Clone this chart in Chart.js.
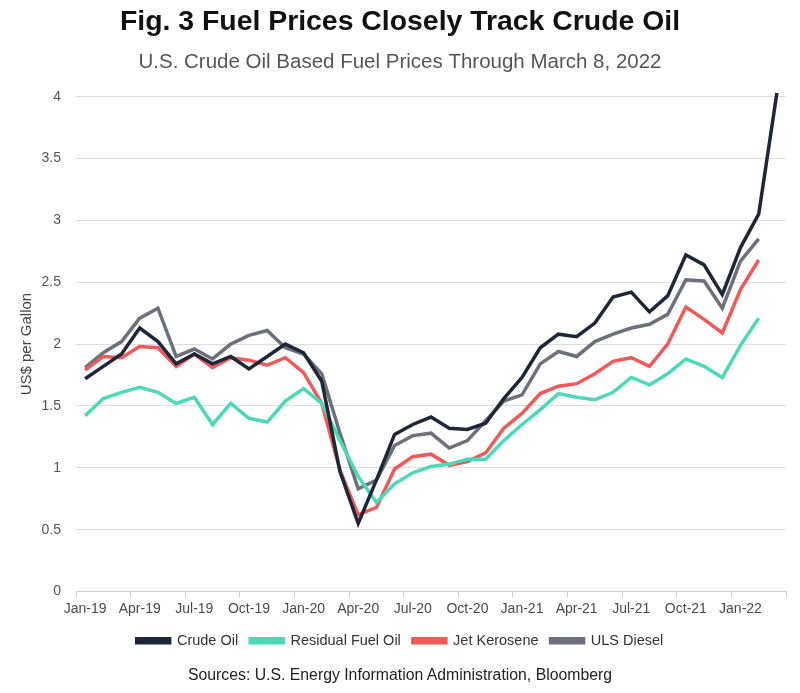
<!DOCTYPE html>
<html>
<head>
<meta charset="utf-8">
<script src="https://cdn.jsdelivr.net/npm/chart.js@4.4.1/dist/chart.umd.min.js"></script>
<style>
  body { margin: 0; background: #fff; }
  #wrap { position: relative; width: 800px; height: 693px; }
  #src {
    position: absolute; left: 0; top: 664px; width: 800px;
    text-align: center; font: 15.8px 'Liberation Sans', Arial, sans-serif;
    line-height: 22px; color: #222;
  }
</style>
</head>
<body>
<div id="wrap">
  <canvas id="chart" width="800" height="693"></canvas>
  <div id="src">Sources: U.S. Energy Information Administration, Bloomberg</div>
</div>
<script>
// Monthly categories, Jan-19 .. Mar-22 (Mar-22 = March 8 crude reading)
const months = [
  'Jan-19', 'Feb-19', 'Mar-19', 'Apr-19', 'May-19', 'Jun-19', 'Jul-19', 'Aug-19', 'Sep-19', 'Oct-19', 'Nov-19', 'Dec-19',
  'Jan-20', 'Feb-20', 'Mar-20', 'Apr-20', 'May-20', 'Jun-20', 'Jul-20', 'Aug-20', 'Sep-20', 'Oct-20', 'Nov-20', 'Dec-20',
  'Jan-21', 'Feb-21', 'Mar-21', 'Apr-21', 'May-21', 'Jun-21', 'Jul-21', 'Aug-21', 'Sep-21', 'Oct-21', 'Nov-21', 'Dec-21',
  'Jan-22', 'Feb-22', 'Mar-22'
];

// US$ per gallon
const crudeOil = [
  1.72, 1.82, 1.92, 2.13, 2.02, 1.84, 1.92, 1.84, 1.90, 1.80, 1.90, 2.00,
  1.93, 1.70, 0.97, 0.55, 0.90, 1.27, 1.35, 1.41, 1.32, 1.31, 1.36, 1.56,
  1.73, 1.97, 2.08, 2.06, 2.17, 2.38, 2.42, 2.26, 2.39, 2.72, 2.64, 2.40,
  2.78, 3.05, 4.03
];
const residualFuelOil = [
  1.42, 1.56, 1.61, 1.65, 1.61, 1.52, 1.57, 1.35, 1.52, 1.40, 1.37, 1.54,
  1.64, 1.52, 1.22, 0.93, 0.72, 0.87, 0.96, 1.01, 1.03, 1.07, 1.07, 1.22,
  1.35, 1.47, 1.60, 1.57, 1.55, 1.61, 1.73, 1.67, 1.76, 1.88, 1.82, 1.73,
  1.99, 2.21
];
const jetKerosene = [
  1.79, 1.90, 1.89, 1.98, 1.97, 1.82, 1.92, 1.81, 1.89, 1.87, 1.83, 1.89,
  1.77, 1.52, 0.98, 0.62, 0.68, 0.99, 1.09, 1.11, 1.02, 1.05, 1.12, 1.32,
  1.44, 1.60, 1.66, 1.68, 1.76, 1.86, 1.89, 1.82, 2.00, 2.30, 2.20, 2.09,
  2.44, 2.68
];
const ulsDiesel = [
  1.81, 1.93, 2.02, 2.21, 2.29, 1.90, 1.96, 1.88, 2.00, 2.07, 2.11, 1.97,
  1.92, 1.76, 1.28, 0.83, 0.90, 1.18, 1.26, 1.28, 1.16, 1.22, 1.38, 1.54,
  1.59, 1.84, 1.94, 1.90, 2.02, 2.08, 2.13, 2.16, 2.24, 2.52, 2.51, 2.29,
  2.67, 2.85
];

const colors = {
  crude: '#1e2737',
  residual: '#4cd8b9',
  jet: '#ee5a5a',
  uls: '#6c707b',
  grid: '#dedede',
  axis: '#cfcfcf',
  tick: '#4a4a4a'
};

const sans = "'Liberation Sans', Arial, sans-serif";

function series(label, data, color) {
  return {
    label,
    data,
    borderColor: color,
    backgroundColor: color,
    borderWidth: 3.5,
    pointRadius: 0,
    tension: 0,
    clip: false
  };
}

new Chart(document.getElementById('chart'), {
  type: 'line',
  data: {
    labels: months,
    datasets: [
      series('Crude Oil', crudeOil, colors.crude),
      series('Residual Fuel Oil', residualFuelOil, colors.residual),
      series('Jet Kerosene', jetKerosene, colors.jet),
      series('ULS Diesel', ulsDiesel, colors.uls)
    ]
  },
  options: {
    responsive: false,
    animation: false,
    layout: { padding: { top: 0, left: 0, right: 0, bottom: 35 } },
    scales: {
      x: {
        offset: true,
        border: { display: true, color: colors.axis, width: 1 },
        grid: {
          offset: true,
          drawOnChartArea: false,
          drawTicks: true,
          tickLength: 6,
          color: c => ((c.index ?? 0) % 3 === 0 ? colors.axis : 'rgba(0,0,0,0)')
        },
        ticks: {
          autoSkip: false,
          maxRotation: 0,
          padding: 3,
          color: colors.tick,
          font: { family: sans, size: 14 },
          callback: (v, i) => (i % 3 === 0 ? months[i] : '')
        },
        afterFit: s => { s.height = 30; }
      },
      y: {
        min: 0,
        max: 4,
        border: { display: false },
        grid: { color: colors.grid, drawTicks: false },
        ticks: {
          stepSize: 0.5,
          padding: 15,
          color: '#555',
          font: { family: sans, size: 14 },
          callback: v => String(v)
        },
        title: {
          display: true,
          text: 'US$ per Gallon',
          color: '#444',
          font: { family: sans, size: 15 },
          padding: { top: 18, bottom: 0 }
        },
        afterFit: s => { s.width = 76; }
      },
      // empty right-hand margin so the titles stay centred on the page
      margin: {
        position: 'right',
        border: { display: false },
        grid: { display: false },
        ticks: { display: false },
        afterFit: s => { s.width = 14; }
      }
    },
    plugins: {
      title: {
        display: true,
        text: 'Fig. 3 Fuel Prices Closely Track Crude Oil',
        color: '#111',
        font: { family: sans, size: 28.4, weight: 'bold' },
        padding: { top: 5, bottom: 0 }
      },
      subtitle: {
        display: true,
        text: 'U.S. Crude Oil Based Fuel Prices Through March 8, 2022',
        color: '#555',
        font: { family: sans, size: 20.5 },
        padding: { top: 11, bottom: 22 }
      },
      legend: {
        position: 'bottom',
        labels: {
          boxWidth: 33,
          boxHeight: 4,
          padding: 12,
          color: '#333',
          font: { family: sans, size: 14.5 }
        }
      },
      tooltip: { enabled: false }
    }
  }
});
</script>
</body>
</html>
